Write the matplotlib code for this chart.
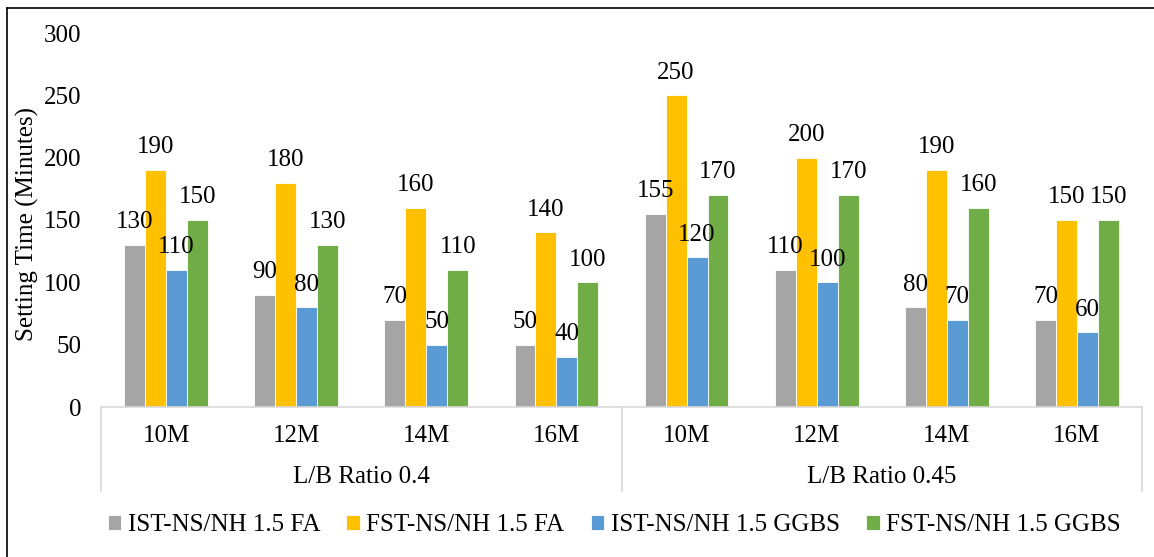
import matplotlib
matplotlib.use("Agg")
import matplotlib.pyplot as plt
import matplotlib.transforms as mtransforms
from matplotlib.lines import Line2D
import numpy as np

# Data
groups = ["L/B Ratio 0.4", "L/B Ratio 0.45"]
lengths = ["10M", "12M", "14M", "16M"]
series_names = ["IST-NS/NH 1.5 FA", "FST-NS/NH 1.5 FA",
                "IST-NS/NH 1.5 GGBS", "FST-NS/NH 1.5 GGBS"]
ist_fa = [130, 90, 70, 50, 155, 110, 80, 70]
fst_fa = [190, 180, 160, 140, 250, 200, 190, 150]
ist_ggbs = [110, 80, 50, 40, 120, 100, 70, 60]
fst_ggbs = [150, 130, 110, 100, 170, 170, 160, 150]
y_ticks = [0, 50, 100, 150, 200, 250, 300]

series = [ist_fa, fst_fa, ist_ggbs, fst_ggbs]
colors = ["#A5A5A5", "#FFC000", "#5B9BD5", "#70AD47"]

plt.rcParams["font.family"] = ["Liberation Serif", "DejaVu Serif"]
FS = 18

W, H = 1154, 557
fig = plt.figure(figsize=(W / 100, H / 100), dpi=100)
ax = fig.add_axes([101 / W, (H - 407) / H, (1142 - 101) / W, (407 - 33) / H])

n_cat = len(groups) * len(lengths)
x = np.arange(n_cat)
bw = 0.161
offsets = (np.arange(len(series)) - (len(series) - 1) / 2) * bw

for vals, off, col, name in zip(series, offsets, colors, series_names):
    bars = ax.bar(x + off, vals, width=bw, color=col, edgecolor="white",
                  linewidth=0.6, label=name, zorder=2)
    for b, v in zip(bars, vals):
        ax.annotate(str(v), (b.get_x() + b.get_width() / 2, v),
                    xytext=(0, 12), textcoords="offset points",
                    ha="center", va="baseline", fontsize=FS, color="black")

ax.set_xlim(-0.5, n_cat - 0.5)
ax.set_ylim(0, 300)
ax.set_yticks(y_ticks)
ax.set_yticklabels([str(t) for t in y_ticks], fontsize=FS)
ax.tick_params(axis="y", length=0, pad=14.4)
ax.set_xticks([])
for s in ["left", "right", "top"]:
    ax.spines[s].set_visible(False)
ax.spines["bottom"].set_color("#D9D9D9")
ax.spines["bottom"].set_linewidth(1.2)

ax.set_ylabel("Setting Time (Minutes)", fontsize=FS, va="center")
ax.yaxis.set_label_coords(-0.071, 0.49)

# Two-level category axis
trans = mtransforms.blended_transform_factory(ax.transData, ax.transAxes)
ax_h = 407 - 33
y_sub = -(436 - 407) / ax_h
y_grp = -(477 - 407) / ax_h
y_line = -(491 - 407) / ax_h
for i in range(n_cat):
    ax.text(x[i], y_sub, lengths[i % len(lengths)], transform=trans,
            ha="center", va="center", fontsize=FS)
for g, name in enumerate(groups):
    center = (g * len(lengths) + (g + 1) * len(lengths) - 1) / 2
    ax.text(center, y_grp, name, transform=trans, ha="center", va="center",
            fontsize=FS)
for b in range(len(groups) + 1):
    xb = b * len(lengths) - 0.5
    ax.add_line(Line2D([xb, xb], [0, y_line], transform=trans, color="#D9D9D9",
                       linewidth=1.2, clip_on=False))

fig.legend(loc="center", bbox_to_anchor=(614 / W, 1 - 525 / H), ncol=4,
           frameon=False, fontsize=FS, handlelength=0.55, handleheight=0.55,
           handletextpad=0.25, columnspacing=1.05, borderaxespad=0)

# Outer chart frame (left and top edges)
fig.add_artist(Line2D([7 / W, 7 / W], [0, 1 - 8 / H], transform=fig.transFigure,
                      color="black", linewidth=1.2))
fig.add_artist(Line2D([7 / W, 1], [1 - 8 / H, 1 - 8 / H], transform=fig.transFigure,
                      color="black", linewidth=1.2))

fig.savefig("out.png", dpi=100)
